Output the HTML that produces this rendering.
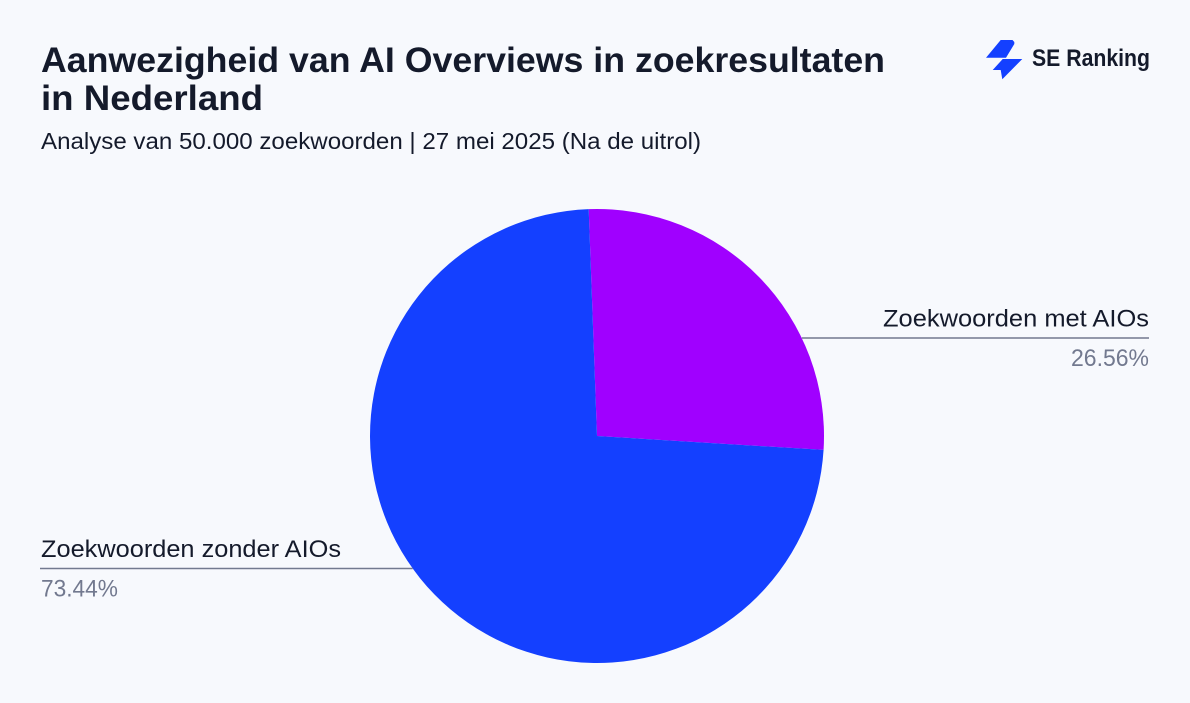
<!DOCTYPE html>
<html lang="nl">
<head>
<meta charset="utf-8">
<title>Aanwezigheid van AI Overviews</title>
<style>
html,body{margin:0;padding:0;background:#f7f9fd;}
svg{display:block;font-family:"Liberation Sans",sans-serif;}
</style>
</head>
<body>
<svg id="chart" width="1190" height="703" viewBox="0 0 1190 703" xmlns="http://www.w3.org/2000/svg">
  <rect x="0" y="0" width="1190" height="703" fill="#f7f9fd"/>
  <text x="41" y="72" font-size="35" font-weight="700" fill="#141a2b" textLength="844" lengthAdjust="spacingAndGlyphs">Aanwezigheid van AI Overviews in zoekresultaten</text>
  <text x="41" y="110" font-size="35" font-weight="700" fill="#141a2b" textLength="222" lengthAdjust="spacingAndGlyphs">in Nederland</text>
  <text x="41" y="149" font-size="23" fill="#141a2b" textLength="660" lengthAdjust="spacingAndGlyphs">Analyse van 50.000 zoekwoorden | 27 mei 2025 (Na de uitrol)</text>
  <g>
    <polygon points="986,57.7 1000.7,40 1012.5,40 1014.3,42 1014.3,44 1006,57.7" fill="#1440ff"/>
    <polygon points="992.7,70 1002.7,59 1022.3,59 1002.3,79.3 1000.7,70" fill="#1440ff"/>
    <text x="1032" y="66" font-size="24" font-weight="700" fill="#141a2b" textLength="118" lengthAdjust="spacingAndGlyphs">SE Ranking</text>
  </g>
  <g id="slices"></g>
  <g id="labels"></g>
</svg>
<script>
const categories = ["Zoekwoorden met AIOs", "Zoekwoorden zonder AIOs"];
const seriesValues = [26.56, 73.44];
const printedValues = ["26.56%", "73.44%"];
const sliceColors = ["#a000ff", "#1440ff"];

const NS = "http://www.w3.org/2000/svg";
const cx = 597, cy = 436, radius = 227, startAngle = -2.1;
const total = seriesValues.reduce(function (a, b) { return a + b; }, 0);

function angleScale(v) { return v / total * 360; }
function polar(deg, r) {
  const a = deg * Math.PI / 180;
  return [cx + r * Math.sin(a), cy - r * Math.cos(a)];
}

const sliceGroup = document.getElementById("slices");
const labelGroup = document.getElementById("labels");

function addText(parent, name, x, y, size, fill, anchor, width, content) {
  const t = document.createElementNS(NS, "text");
  t.setAttribute("x", x);
  t.setAttribute("y", y);
  t.setAttribute("font-size", size);
  t.setAttribute("fill", fill);
  t.setAttribute("text-anchor", anchor);
  t.setAttribute("textLength", width);
  t.setAttribute("lengthAdjust", "spacingAndGlyphs");
  
  
  t.textContent = content;
  parent.appendChild(t);
}

let cursor = startAngle;
seriesValues.forEach(function (v, i) {
  const sweep = angleScale(v);
  const p0 = polar(cursor, radius);
  const p1 = polar(cursor + sweep, radius);
  const path = document.createElementNS(NS, "path");
  path.setAttribute("d", "M" + cx + " " + cy + " L" + p0[0] + " " + p0[1] +
    " A" + radius + " " + radius + " 0 " + (sweep > 180 ? 1 : 0) + " 1 " + p1[0] + " " + p1[1] + " Z");
  path.setAttribute("fill", sliceColors[i]);
  
  
  sliceGroup.appendChild(path);

  const mid = cursor + sweep / 2;
  const rightSide = mid < 180;
  const leaderY = rightSide ? 338 : 568.5;
  const dy = leaderY - cy;
  const rimX = Math.sqrt(Math.max(0, radius * radius - dy * dy));
  const x1 = rightSide ? cx + rimX : cx - rimX;
  const x2 = rightSide ? 1149 : 40;

  const line = document.createElementNS(NS, "line");
  line.setAttribute("x1", x1);
  line.setAttribute("x2", x2);
  line.setAttribute("y1", leaderY);
  line.setAttribute("y2", leaderY);
  line.setAttribute("stroke", "#72798f");
  line.setAttribute("stroke-width", "1.4");
  
  
  labelGroup.appendChild(line);

  const tx = rightSide ? 1149 : 41;
  const anchor = rightSide ? "end" : "start";
  addText(labelGroup, "slice-label", tx, leaderY - 11.3, 24, "#141a2b", anchor, rightSide ? 266 : 300, categories[i]);
  addText(labelGroup, "slice-value", tx, leaderY + 28.2, 24, "#72798f", anchor, rightSide ? 78 : 77, printedValues[i]);

  cursor += sweep;
});
</script>
</body>
</html>
